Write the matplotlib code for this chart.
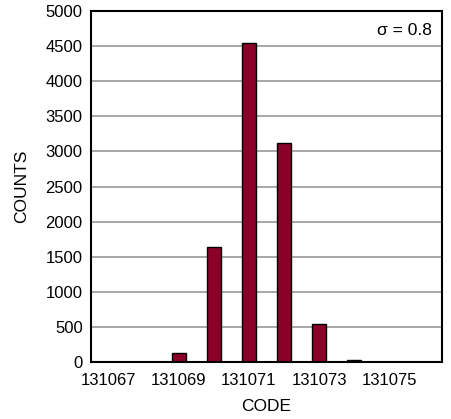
import matplotlib
matplotlib.use("Agg")
import matplotlib.pyplot as plt
from matplotlib import font_manager

names = {f.name for f in font_manager.fontManager.ttflist}
fam = 'Liberation Sans Narrow' if 'Liberation Sans Narrow' in names else 'Liberation Sans'
plt.rcParams['font.family'] = [fam, 'DejaVu Sans']

codes = [131067, 131068, 131069, 131070, 131071, 131072, 131073, 131074, 131075, 131076]
counts = [0, 0, 130, 1640, 4550, 3125, 540, 28, 0, 0]
xticks = [131067, 131069, 131071, 131073, 131075]
yticks = list(range(0, 5001, 500))

fig = plt.figure(figsize=(4.52, 4.19), dpi=100)
ax = fig.add_axes([91/452, 1 - 362/419, (442 - 91)/452, (362 - 11)/419])

ax.bar(codes, counts, width=0.4, color='#8a0029', edgecolor='black', linewidth=1.0, zorder=3)
ax.set_xlim(131066.5, 131076.5)
ax.set_ylim(0, 5000)
ax.set_xticks(xticks)
ax.set_xticklabels([str(t) for t in xticks])
ax.set_yticks(yticks)
ax.yaxis.grid(True, color='#999999', linewidth=1.2, zorder=0)
ax.tick_params(axis='x', length=0, labelsize=12, pad=8)
ax.tick_params(axis='y', length=0, labelsize=12, pad=6)
for s in ax.spines.values():
    s.set_linewidth(1.5)
    s.set_zorder(4)
ax.set_xlabel('CODE', fontsize=12.5, labelpad=8)
ax.set_ylabel('COUNTS', fontsize=12.5, labelpad=12)
ax.text(0.97, 0.965, 'σ = 0.8', transform=ax.transAxes, ha='right', va='top', fontsize=12.5,
        family=[fam, 'DejaVu Sans'])

fig.savefig('out.png', dpi=100)
